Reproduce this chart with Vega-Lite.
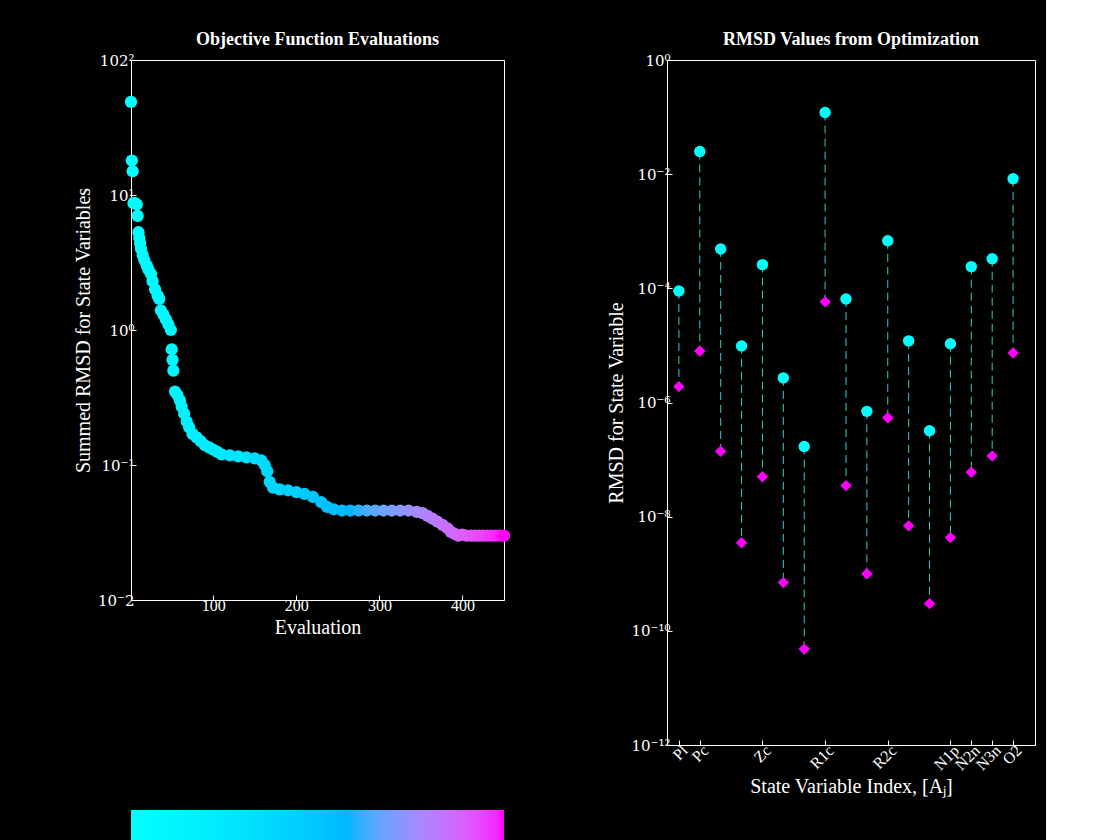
{
"$schema":"https://vega.github.io/schema/vega-lite/v6.json",
"background":"black",
"padding":{"left":72,"top":30,"right":10,"bottom":5},
"config":{"font":"Liberation Serif","view":{"stroke":"white","strokeWidth":1},
"axis":{"labelColor":"white","titleColor":"white","domainColor":"white","tickColor":"white","labelFontSize":16,"titleFontSize":20,"titleFontWeight":"normal","grid":false,"tickSize":-5},
"title":{"color":"white","fontSize":18,"fontWeight":"bold"},
"legend":{"labelColor":"white","titleColor":"white"}},
"spacing":95,
"hconcat":[
{"title":"Objective Function Evaluations","width":373,"height":540,
"data":{"values":[
{"e":1,"v":49},{"e":2,"v":18},{"e":3,"v":15},{"e":4,"v":8.7},{"e":6,"v":8.7},{"e":8,"v":8.5},{"e":9,"v":7},{"e":10,"v":5.3},{"e":11,"v":4.8},{"e":12,"v":4.4},{"e":13,"v":4},{"e":15,"v":3.6},{"e":17,"v":3.3},{"e":20,"v":3},{"e":22,"v":2.8},{"e":25,"v":2.6},{"e":27,"v":2.3},{"e":30,"v":2},{"e":33,"v":1.8},{"e":35,"v":1.7},{"e":37,"v":1.4},{"e":40,"v":1.3},{"e":43,"v":1.2},{"e":46,"v":1.1},{"e":49,"v":1.0},{"e":50,"v":0.72},{"e":51,"v":0.6},{"e":52,"v":0.5},{"e":54,"v":0.35},{"e":57,"v":0.33},{"e":60,"v":0.3},{"e":62,"v":0.27},{"e":65,"v":0.24},{"e":68,"v":0.21},{"e":71,"v":0.19},{"e":75,"v":0.17},{"e":80,"v":0.16},{"e":85,"v":0.15},{"e":90,"v":0.14},{"e":95,"v":0.135},{"e":100,"v":0.13},{"e":105,"v":0.125},{"e":110,"v":0.12},{"e":120,"v":0.118},{"e":130,"v":0.116},{"e":140,"v":0.114},{"e":150,"v":0.112},{"e":158,"v":0.108},{"e":162,"v":0.1},{"e":165,"v":0.09},{"e":168,"v":0.075},{"e":172,"v":0.068},{"e":180,"v":0.066},{"e":190,"v":0.065},{"e":200,"v":0.063},{"e":210,"v":0.061},{"e":220,"v":0.058},{"e":230,"v":0.053},{"e":237,"v":0.049},{"e":245,"v":0.047},{"e":255,"v":0.046},{"e":265,"v":0.046},{"e":275,"v":0.046},{"e":285,"v":0.046},{"e":295,"v":0.046},{"e":305,"v":0.046},{"e":315,"v":0.046},{"e":325,"v":0.046},{"e":335,"v":0.046},{"e":345,"v":0.045},{"e":352,"v":0.044},{"e":358,"v":0.042},{"e":364,"v":0.04},{"e":370,"v":0.038},{"e":376,"v":0.036},{"e":382,"v":0.034},{"e":386,"v":0.032},{"e":390,"v":0.031},{"e":395,"v":0.03},{"e":400,"v":0.0305},{"e":405,"v":0.03},{"e":410,"v":0.03},{"e":415,"v":0.03},{"e":420,"v":0.03},{"e":425,"v":0.03},{"e":430,"v":0.03},{"e":435,"v":0.03},{"e":440,"v":0.03},{"e":445,"v":0.03},{"e":450,"v":0.03}
]},
"mark":{"type":"circle","size":150,"opacity":1},
"encoding":{
"x":{"field":"e","type":"quantitative","scale":{"domain":[1,450],"nice":false},"axis":{"title":"Evaluation","values":[100,200,300,400],"titlePadding":4}},
"y":{"field":"v","type":"quantitative","scale":{"type":"log","domain":[0.01,100]},"axis":{"title":"Summed RMSD for State Variables","values":[0.01,0.1,1,10,100],"labelFont":"DejaVu Serif","labelFontSize":15,"labelExpr":"'10' + replace(replace(replace(replace(format(round(log(datum.value)/log(10)),'d'),'−','-'),'-','⁻'),'0','⁰'),'1','¹') + (datum.value==100 ? '²' : '')"}},
"color":{"field":"e","type":"quantitative","scale":{"range":["#00ffff","#ff00ff"],"domain":[1,450]},
"legend":{"orient":"bottom","direction":"horizontal","gradientLength":373,"gradientThickness":34,"values":[1,450],"labelExpr":"datum.value < 100 ? 'Beginning' : 'End'","labelFontSize":16,"labelAlign":"center","title":"Optimization Progression","titleOrient":"bottom","titleFontSize":16,"titleFontWeight":"normal","titleAnchor":"middle","gradientStrokeColor":"white","offset":12,"labelOffset":8}}
}},
{"title":"RMSD Values from Optimization","width":368,"height":685,
"data":{"values":[
{"i":1,"n":"Pl","a":9e-5,"b":1.9e-6},{"i":2,"n":"Pc","a":2.5e-2,"b":8e-6},{"i":3,"n":"","a":4.9e-4,"b":1.4e-7},{"i":4,"n":"","a":9.8e-6,"b":3.5e-9},{"i":5,"n":"Zc","a":2.6e-4,"b":5e-8},{"i":6,"n":"","a":2.7e-6,"b":7e-10},{"i":7,"n":"","a":1.7e-7,"b":4.8e-11},{"i":8,"n":"R1c","a":0.12,"b":5.8e-5},{"i":9,"n":"","a":6.5e-5,"b":3.5e-8},{"i":10,"n":"","a":7e-7,"b":1e-9},{"i":11,"n":"R2c","a":6.8e-4,"b":5.4e-7},{"i":12,"n":"","a":1.2e-5,"b":6.9e-9},{"i":13,"n":"","a":3.2e-7,"b":3e-10},{"i":14,"n":"N1p","a":1.07e-5,"b":4.3e-9},{"i":15,"n":"N2n","a":2.4e-4,"b":6e-8},{"i":16,"n":"N3n","a":3.3e-4,"b":1.16e-7},{"i":17,"n":"O2","a":8.3e-3,"b":7.4e-6}
]},
"encoding":{"x":{"field":"i","type":"quantitative","scale":{"domain":[0.43,18.05],"nice":false,"zero":false},
"axis":{"title":"State Variable Index, [Aⱼ]","values":[1,2,5,8,11,14,15,16,17],"labelAngle":-45,"labelOverlap":false,"labelBound":false,"labelExpr":"['','Pl','Pc','','','Zc','','','R1c','','','R2c','','','N1p','N2n','N3n','O2'][datum.value]"}}},
"layer":[
{"mark":{"type":"rule","strokeDash":[8,5],"color":"#33cccc","strokeWidth":1},"encoding":{"y":{"field":"a","type":"quantitative"},"y2":{"field":"b"}}},
{"mark":{"type":"circle","size":130,"color":"#00ffff","opacity":1},"encoding":{"y":{"field":"a","type":"quantitative","scale":{"type":"log","domain":[1e-12,1]},"axis":{"title":"RMSD for State Variable","values":[1e-12,1e-10,1e-8,1e-6,1e-4,1e-2,1],"labelFont":"DejaVu Serif","labelFontSize":15,"labelExpr":"'10' + replace(replace(replace(replace(replace(replace(replace(replace(format(round(log(datum.value)/log(10)),'d'),'−','-'),'-','⁻'),'0','⁰'),'1','¹'),'2','²'),'4','⁴'),'6','⁶'),'8','⁸')"}}}},
{"mark":{"type":"point","shape":"diamond","filled":true,"size":130,"color":"#ff00ff","opacity":1},"encoding":{"y":{"field":"b","type":"quantitative"}}}
]}
]}
